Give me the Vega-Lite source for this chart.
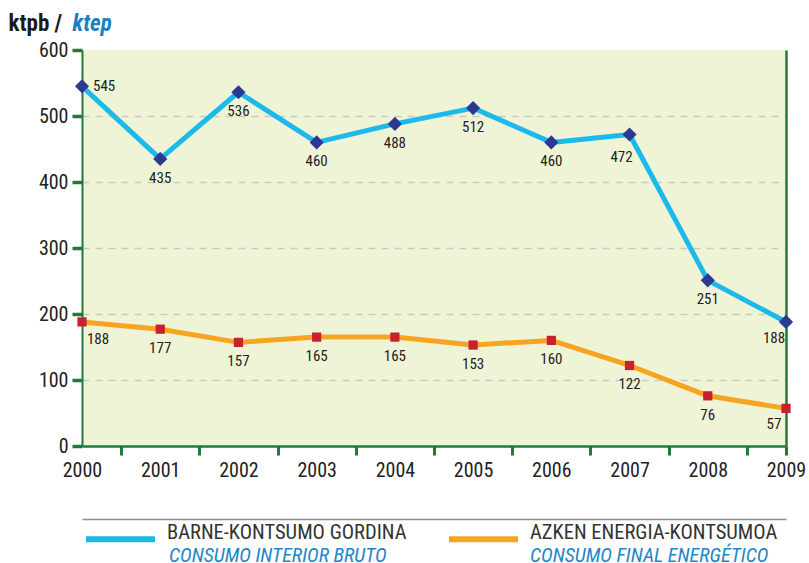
{
  "$schema": "https://vega.github.io/schema/vega-lite/v6.json",
  "autosize": "none",
  "width": 704,
  "height": 396,
  "padding": {"left": 82, "top": 50, "right": 23, "bottom": 117},
  "background": "white",
  "config": {
    "view": {"fill": "#f0f4d6", "stroke": null},
    "font": "Liberation Sans Narrow, Roboto Condensed, Roboto"
  },
  "data": {
    "values": [
      {"year": 2000, "series": "BARNE-KONTSUMO GORDINA", "es": "CONSUMO INTERIOR BRUTO", "value": 545},
      {"year": 2001, "series": "BARNE-KONTSUMO GORDINA", "es": "CONSUMO INTERIOR BRUTO", "value": 435},
      {"year": 2002, "series": "BARNE-KONTSUMO GORDINA", "es": "CONSUMO INTERIOR BRUTO", "value": 536},
      {"year": 2003, "series": "BARNE-KONTSUMO GORDINA", "es": "CONSUMO INTERIOR BRUTO", "value": 460},
      {"year": 2004, "series": "BARNE-KONTSUMO GORDINA", "es": "CONSUMO INTERIOR BRUTO", "value": 488},
      {"year": 2005, "series": "BARNE-KONTSUMO GORDINA", "es": "CONSUMO INTERIOR BRUTO", "value": 512},
      {"year": 2006, "series": "BARNE-KONTSUMO GORDINA", "es": "CONSUMO INTERIOR BRUTO", "value": 460},
      {"year": 2007, "series": "BARNE-KONTSUMO GORDINA", "es": "CONSUMO INTERIOR BRUTO", "value": 472},
      {"year": 2008, "series": "BARNE-KONTSUMO GORDINA", "es": "CONSUMO INTERIOR BRUTO", "value": 251},
      {"year": 2009, "series": "BARNE-KONTSUMO GORDINA", "es": "CONSUMO INTERIOR BRUTO", "value": 188},
      {"year": 2000, "series": "AZKEN ENERGIA-KONTSUMOA", "es": "CONSUMO FINAL ENERGÉTICO", "value": 188},
      {"year": 2001, "series": "AZKEN ENERGIA-KONTSUMOA", "es": "CONSUMO FINAL ENERGÉTICO", "value": 177},
      {"year": 2002, "series": "AZKEN ENERGIA-KONTSUMOA", "es": "CONSUMO FINAL ENERGÉTICO", "value": 157},
      {"year": 2003, "series": "AZKEN ENERGIA-KONTSUMOA", "es": "CONSUMO FINAL ENERGÉTICO", "value": 165},
      {"year": 2004, "series": "AZKEN ENERGIA-KONTSUMOA", "es": "CONSUMO FINAL ENERGÉTICO", "value": 165},
      {"year": 2005, "series": "AZKEN ENERGIA-KONTSUMOA", "es": "CONSUMO FINAL ENERGÉTICO", "value": 153},
      {"year": 2006, "series": "AZKEN ENERGIA-KONTSUMOA", "es": "CONSUMO FINAL ENERGÉTICO", "value": 160},
      {"year": 2007, "series": "AZKEN ENERGIA-KONTSUMOA", "es": "CONSUMO FINAL ENERGÉTICO", "value": 122},
      {"year": 2008, "series": "AZKEN ENERGIA-KONTSUMOA", "es": "CONSUMO FINAL ENERGÉTICO", "value": 76},
      {"year": 2009, "series": "AZKEN ENERGIA-KONTSUMOA", "es": "CONSUMO FINAL ENERGÉTICO", "value": 57}
    ]
  },
  "layer": [
    {
      "mark": {"type": "line", "strokeWidth": 5, "strokeJoin": "round"},
      "encoding": {
        "x": {
          "field": "year", "type": "quantitative",
          "scale": {"domain": [2000, 2009], "nice": false, "zero": false},
          "axis": {
            "orient": "bottom", "title": null, "grid": false,
            "values": [2000, 2001, 2002, 2003, 2004, 2005, 2006, 2007, 2008, 2009],
            "format": "d", "ticks": false, "labelPadding": 14,
            "labelFontSize": 20, "labelColor": "#222", "labelFlush": false,
            "domainColor": "#1e7b3c", "domainWidth": 2.5
          }
        },
        "y": {
          "field": "value", "type": "quantitative",
          "scale": {"domain": [0, 600], "nice": false},
          "axis": {
            "orient": "left",
            "values": [0, 100, 200, 300, 400, 500, 600],
            "tickSize": 10, "tickWidth": 3.5, "tickColor": "#1e7b3c",
            "domainColor": "#1e7b3c", "domainWidth": 2,
            "labelFontSize": 20, "labelColor": "#222", "labelPadding": 4,
            "grid": true, "gridDash": [7, 6], "gridColor": "#c9c9c4", "gridWidth": 1.5,
            "gridOpacity": {"condition": {"test": "datum.value === 0 || datum.value === 600", "value": 0}, "value": 1},
            "title": "ktpb /", "titleAngle": 0, "titleX": -74, "titleY": -20,
            "titleAlign": "left", "titleBaseline": "alphabetic",
            "titleFont": "Liberation Sans Narrow, Roboto Condensed, Roboto",
            "titleFontSize": 23, "titleFontWeight": "bold",
            "titleColor": "#1a1a1a"
          }
        },
        "stroke": {
          "field": "series", "type": "nominal",
          "scale": {"domain": ["BARNE-KONTSUMO GORDINA", "AZKEN ENERGIA-KONTSUMOA"], "range": ["#1cbaec", "#f8a420"]},
          "legend": {
            "orient": "none", "direction": "horizontal", "title": null,
            "legendX": 1, "legendY": 451.5, "padding": 0,
            "symbolType": "stroke", "symbolSize": 4761, "symbolStrokeWidth": 6,
            "labelFontSize": 20.5, "labelColor": "#333", "labelOffset": 9,
            "labelBaseline": "alphabetic", "labelLimit": 400,
            "columnPadding": 30
          }
        }
      }
    },
    {
      "transform": [{"filter": "datum.series === 'BARNE-KONTSUMO GORDINA'"}],
      "mark": {"type": "point", "shape": "diamond", "size": 200, "filled": true, "opacity": 1, "color": "#2b3990"},
      "encoding": {
        "x": {
          "field": "year", "type": "quantitative",
          "axis": {
            "orient": "bottom", "title": null, "grid": false, "labels": false, "domain": false,
            "values": [2000.5, 2001.5, 2002.5, 2003.5, 2004.5, 2005.5, 2006.5, 2007.5, 2008.5, 2009],
            "tickSize": 9, "tickWidth": 3, "tickColor": "#1e7b3c"
          }
        },
        "y": {
          "field": "value", "type": "quantitative",
          "axis": {
            "orient": "right", "grid": false, "labels": false, "ticks": false,
            "domainColor": "#1e7b3c", "domainWidth": 2.5,
            "title": "ktep", "titleAngle": 0, "titleX": -714, "titleY": -20,
            "titleAlign": "left", "titleBaseline": "alphabetic",
            "titleFont": "Liberation Sans Narrow, Roboto Condensed, Roboto",
            "titleFontSize": 23, "titleFontWeight": "bold", "titleFontStyle": "italic",
            "titleColor": "#1b7fc4"
          }
        }
      }
    },
    {
      "transform": [{"filter": "datum.series === 'AZKEN ENERGIA-KONTSUMOA'"}],
      "mark": {"type": "point", "shape": "square", "size": 85, "filled": true, "opacity": 1, "color": "#c8202f"},
      "encoding": {
        "x": {"field": "year", "type": "quantitative", "axis": null},
        "y": {"field": "value", "type": "quantitative", "axis": null}
      }
    },
    {
      "transform": [{"filter": "datum.year === 2000 && datum.series === 'BARNE-KONTSUMO GORDINA'"}],
      "mark": {"type": "text", "align": "left", "baseline": "middle", "dx": 11, "fontSize": 15, "color": "#222"},
      "encoding": {
        "x": {
          "field": "year", "type": "quantitative",
          "axis": {
            "orient": "bottom", "offset": 73, "title": null, "grid": false, "labels": false, "ticks": false,
            "domainColor": "#8a8a8a", "domainWidth": 1.5
          }
        },
        "y": {"field": "value", "type": "quantitative", "axis": null},
        "text": {"field": "value", "type": "quantitative"}
      }
    },
    {
      "transform": [{"filter": "datum.year === 2000 && datum.series === 'AZKEN ENERGIA-KONTSUMOA'"}],
      "mark": {"type": "text", "align": "center", "baseline": "middle", "dx": 16, "dy": 17, "fontSize": 15, "color": "#222"},
      "encoding": {
        "x": {"field": "year", "type": "quantitative", "axis": null},
        "y": {"field": "value", "type": "quantitative", "axis": null},
        "text": {"field": "value", "type": "quantitative"}
      }
    },
    {
      "transform": [{"filter": "datum.year > 2000 && datum.year < 2009 && !(datum.year === 2007 && datum.series === 'BARNE-KONTSUMO GORDINA')"}],
      "mark": {"type": "text", "align": "center", "baseline": "middle", "dy": 19, "fontSize": 15, "color": "#222"},
      "encoding": {
        "x": {"field": "year", "type": "quantitative", "axis": null},
        "y": {"field": "value", "type": "quantitative", "axis": null},
        "text": {"field": "value", "type": "quantitative"},
        "opacity": {
          "field": "es", "type": "nominal",
          "scale": {"domain": ["CONSUMO INTERIOR BRUTO", "CONSUMO FINAL ENERGÉTICO"], "range": [1, 1]},
          "legend": {
            "orient": "none", "direction": "horizontal", "title": null,
            "legendX": 1, "legendY": 501.5, "padding": 0,
            "symbolType": "circle", "symbolSize": 0.01, "symbolStrokeWidth": 0,
            "symbolFillColor": "white",
            "labelFontSize": 20, "labelColor": "#1f86c8", "labelFontStyle": "italic",
            "labelOffset": 66, "labelBaseline": "alphabetic", "labelLimit": 400,
            "columnPadding": 57
          }
        }
      }
    },
    {
      "transform": [{"filter": "datum.year === 2007 && datum.series === 'BARNE-KONTSUMO GORDINA'"}],
      "mark": {"type": "text", "align": "center", "baseline": "middle", "dx": -8, "dy": 23, "fontSize": 15, "color": "#222"},
      "encoding": {
        "x": {"field": "year", "type": "quantitative", "axis": null},
        "y": {"field": "value", "type": "quantitative", "axis": null},
        "text": {"field": "value", "type": "quantitative"}
      }
    },
    {
      "transform": [{"filter": "datum.year === 2009"}],
      "mark": {"type": "text", "align": "center", "baseline": "middle", "dx": -12, "dy": 16, "fontSize": 15, "color": "#222"},
      "encoding": {
        "x": {"field": "year", "type": "quantitative", "axis": null},
        "y": {"field": "value", "type": "quantitative", "axis": null},
        "text": {"field": "value", "type": "quantitative"}
      }
    }
  ],
  "resolve": {"axis": {"x": "independent", "y": "independent"}}
}
